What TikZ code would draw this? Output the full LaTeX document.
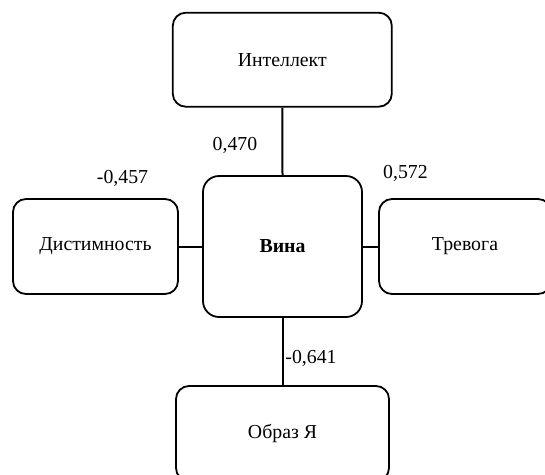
\documentclass[tikz,border=0pt]{standalone}
\usepackage{fontspec}
\setmainfont{Liberation Serif}
\begin{document}
\begin{tikzpicture}[x=1pt,y=-1pt,
  box/.style={draw=black,line width=1.8pt,rounded corners=13pt,fill=white,font=\fontsize{19.8}{23}\selectfont},
  link/.style={draw=black,line width=2pt},
  num/.style={font=\fontsize{19.8}{23}\selectfont,inner sep=0pt}]
\useasboundingbox (0,0) rectangle (545,474);
\clip (0,0) rectangle (545,474);
\node[box,minimum width=219pt,minimum height=94pt] (int) at (282.3,59.7) {Интеллект};
\node[box,minimum width=159pt,minimum height=141pt,rounded corners=16pt] (vina) at (282.5,246.5) {\textbf{Вина}};
\node[box,minimum width=165pt,minimum height=95pt] (dis) at (95.5,246.5) {Дистимность};
\node[box,minimum width=172pt,minimum height=95pt] (trev) at (465,246.5) {Тревога};
\node[box,minimum width=213pt,minimum height=95pt] (obr) at (282.5,433.5) {Образ Я};
\draw[link] (int.south) -- (vina.north);
\draw[link] (dis.east) -- (vina.west);
\draw[link] (vina.east) -- (trev.west);
\draw[link] (vina.south) -- (obr.north);
\node[num] (l1) at (235,145) {0,470};
\node[num] (l2) at (122.5,178) {-0,457};
\node[num] (l3) at (405.5,173) {0,572};
\node[num] (l4) at (311,358) {-0,641};
\end{tikzpicture}
\end{document}
